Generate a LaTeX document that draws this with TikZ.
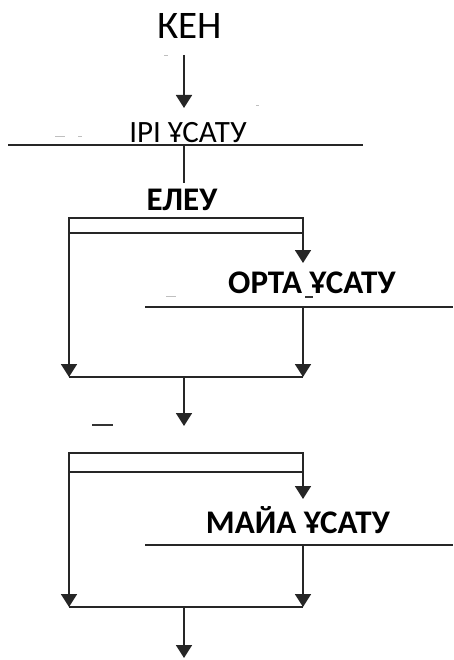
\documentclass[tikz,border=0pt]{standalone}
\usepackage{fontspec}
\setmainfont{Carlito}
\usetikzlibrary{arrows.meta}
\begin{document}
\begin{tikzpicture}[x=1pt,y=-1pt,
  flow/.style={line width=1.8pt, draw=black!85},
  arr/.style={flow, -{Triangle[width=16pt,length=13pt]}},
  caption/.style={anchor=base, inner sep=0pt, text=black},
  bigtxt/.style={caption, font=\fontsize{39}{41}\selectfont},
  plaintxt/.style={caption, font=\fontsize{31}{33}\selectfont},
  boldtxt/.style={caption, font=\bfseries\fontsize{33}{35}\selectfont},
  speck/.style={line width=1.3pt, draw=black!80},
  faint/.style={line width=1pt, draw=black!25}]
\useasboundingbox (0,0) rectangle (453,660);

% labels
\node[bigtxt]   (ken)  at (190,39)  {КЕН};
\node[plaintxt] (iri)  at (188,143) {ІРІ ҰСАТУ};
\node[boldtxt]  (eleu) at (182,211) {ЕЛЕУ};
\node[boldtxt]  (orta) at (312,293) {ОРТА ҰСАТУ};
\node[boldtxt]  (maia) at (298,533) {МАЙА ҰСАТУ};

% junction points
\coordinate (k0) at (184,55);
\coordinate (k1) at (184,108);
\coordinate (iL) at (8,145);
\coordinate (iR) at (363,145);
\coordinate (iC) at (184,145);
\coordinate (e0) at (184,183);

\coordinate (b1tl) at (69,218);
\coordinate (b1tr) at (303,218);
\coordinate (b1ml) at (69,233);
\coordinate (b1mr) at (303,233);
\coordinate (o1)   at (303,263);
\coordinate (oL)   at (145,307);
\coordinate (oR)   at (453,307);
\coordinate (oC)   at (303,307);
\coordinate (b1bl) at (69,377);
\coordinate (b1br) at (303,377);
\coordinate (b1bc) at (184,377);
\coordinate (m0)   at (184,426);

\coordinate (b2tl) at (69,453);
\coordinate (b2tr) at (303,453);
\coordinate (b2ml) at (69,472);
\coordinate (b2mr) at (303,472);
\coordinate (m1)   at (303,499);
\coordinate (mL)   at (145,545);
\coordinate (mR)   at (453,545);
\coordinate (mC)   at (303,545);
\coordinate (b2bl) at (69,607);
\coordinate (b2br) at (303,607);
\coordinate (b2bc) at (184,607);
\coordinate (out)  at (184,658);

% top stage
\draw[arr]  (k0) -- (k1);
\draw[flow] (iL) -- (iR);
\draw[flow] (iC) -- (e0);

% first splitter
\draw[flow] (b1tl) rectangle (b1mr);
\draw[arr]  (b1mr) -- (o1);
\draw[flow] (oL) -- (oR);
\draw[arr]  (oC) -- (b1br);
\draw[arr]  (b1ml) -- (b1bl);
\draw[flow] (b1bl) -- (b1br);
\draw[arr]  (b1bc) -- (m0);

% second splitter
\draw[flow] (b2tl) rectangle (b2mr);
\draw[arr]  (b2mr) -- (m1);
\draw[flow] (mL) -- (mR);
\draw[arr]  (mC) -- (b2br);
\draw[arr]  (b2ml) -- (b2bl);
\draw[flow] (b2bl) -- (b2br);
\draw[arr]  (b2bc) -- (out);

% stray marks
\draw[faint] (164,56) -- (168,56);
\draw[faint] (256,106) -- (259,106);
\draw[faint] (55,137) -- (65,137);
\draw[faint] (78,137) -- (82,137);
\draw[faint] (166,296) -- (176,296);
\draw[speck] (305,297) -- (313,297);
\draw[speck] (92,425) -- (113,425);
\end{tikzpicture}
\end{document}
